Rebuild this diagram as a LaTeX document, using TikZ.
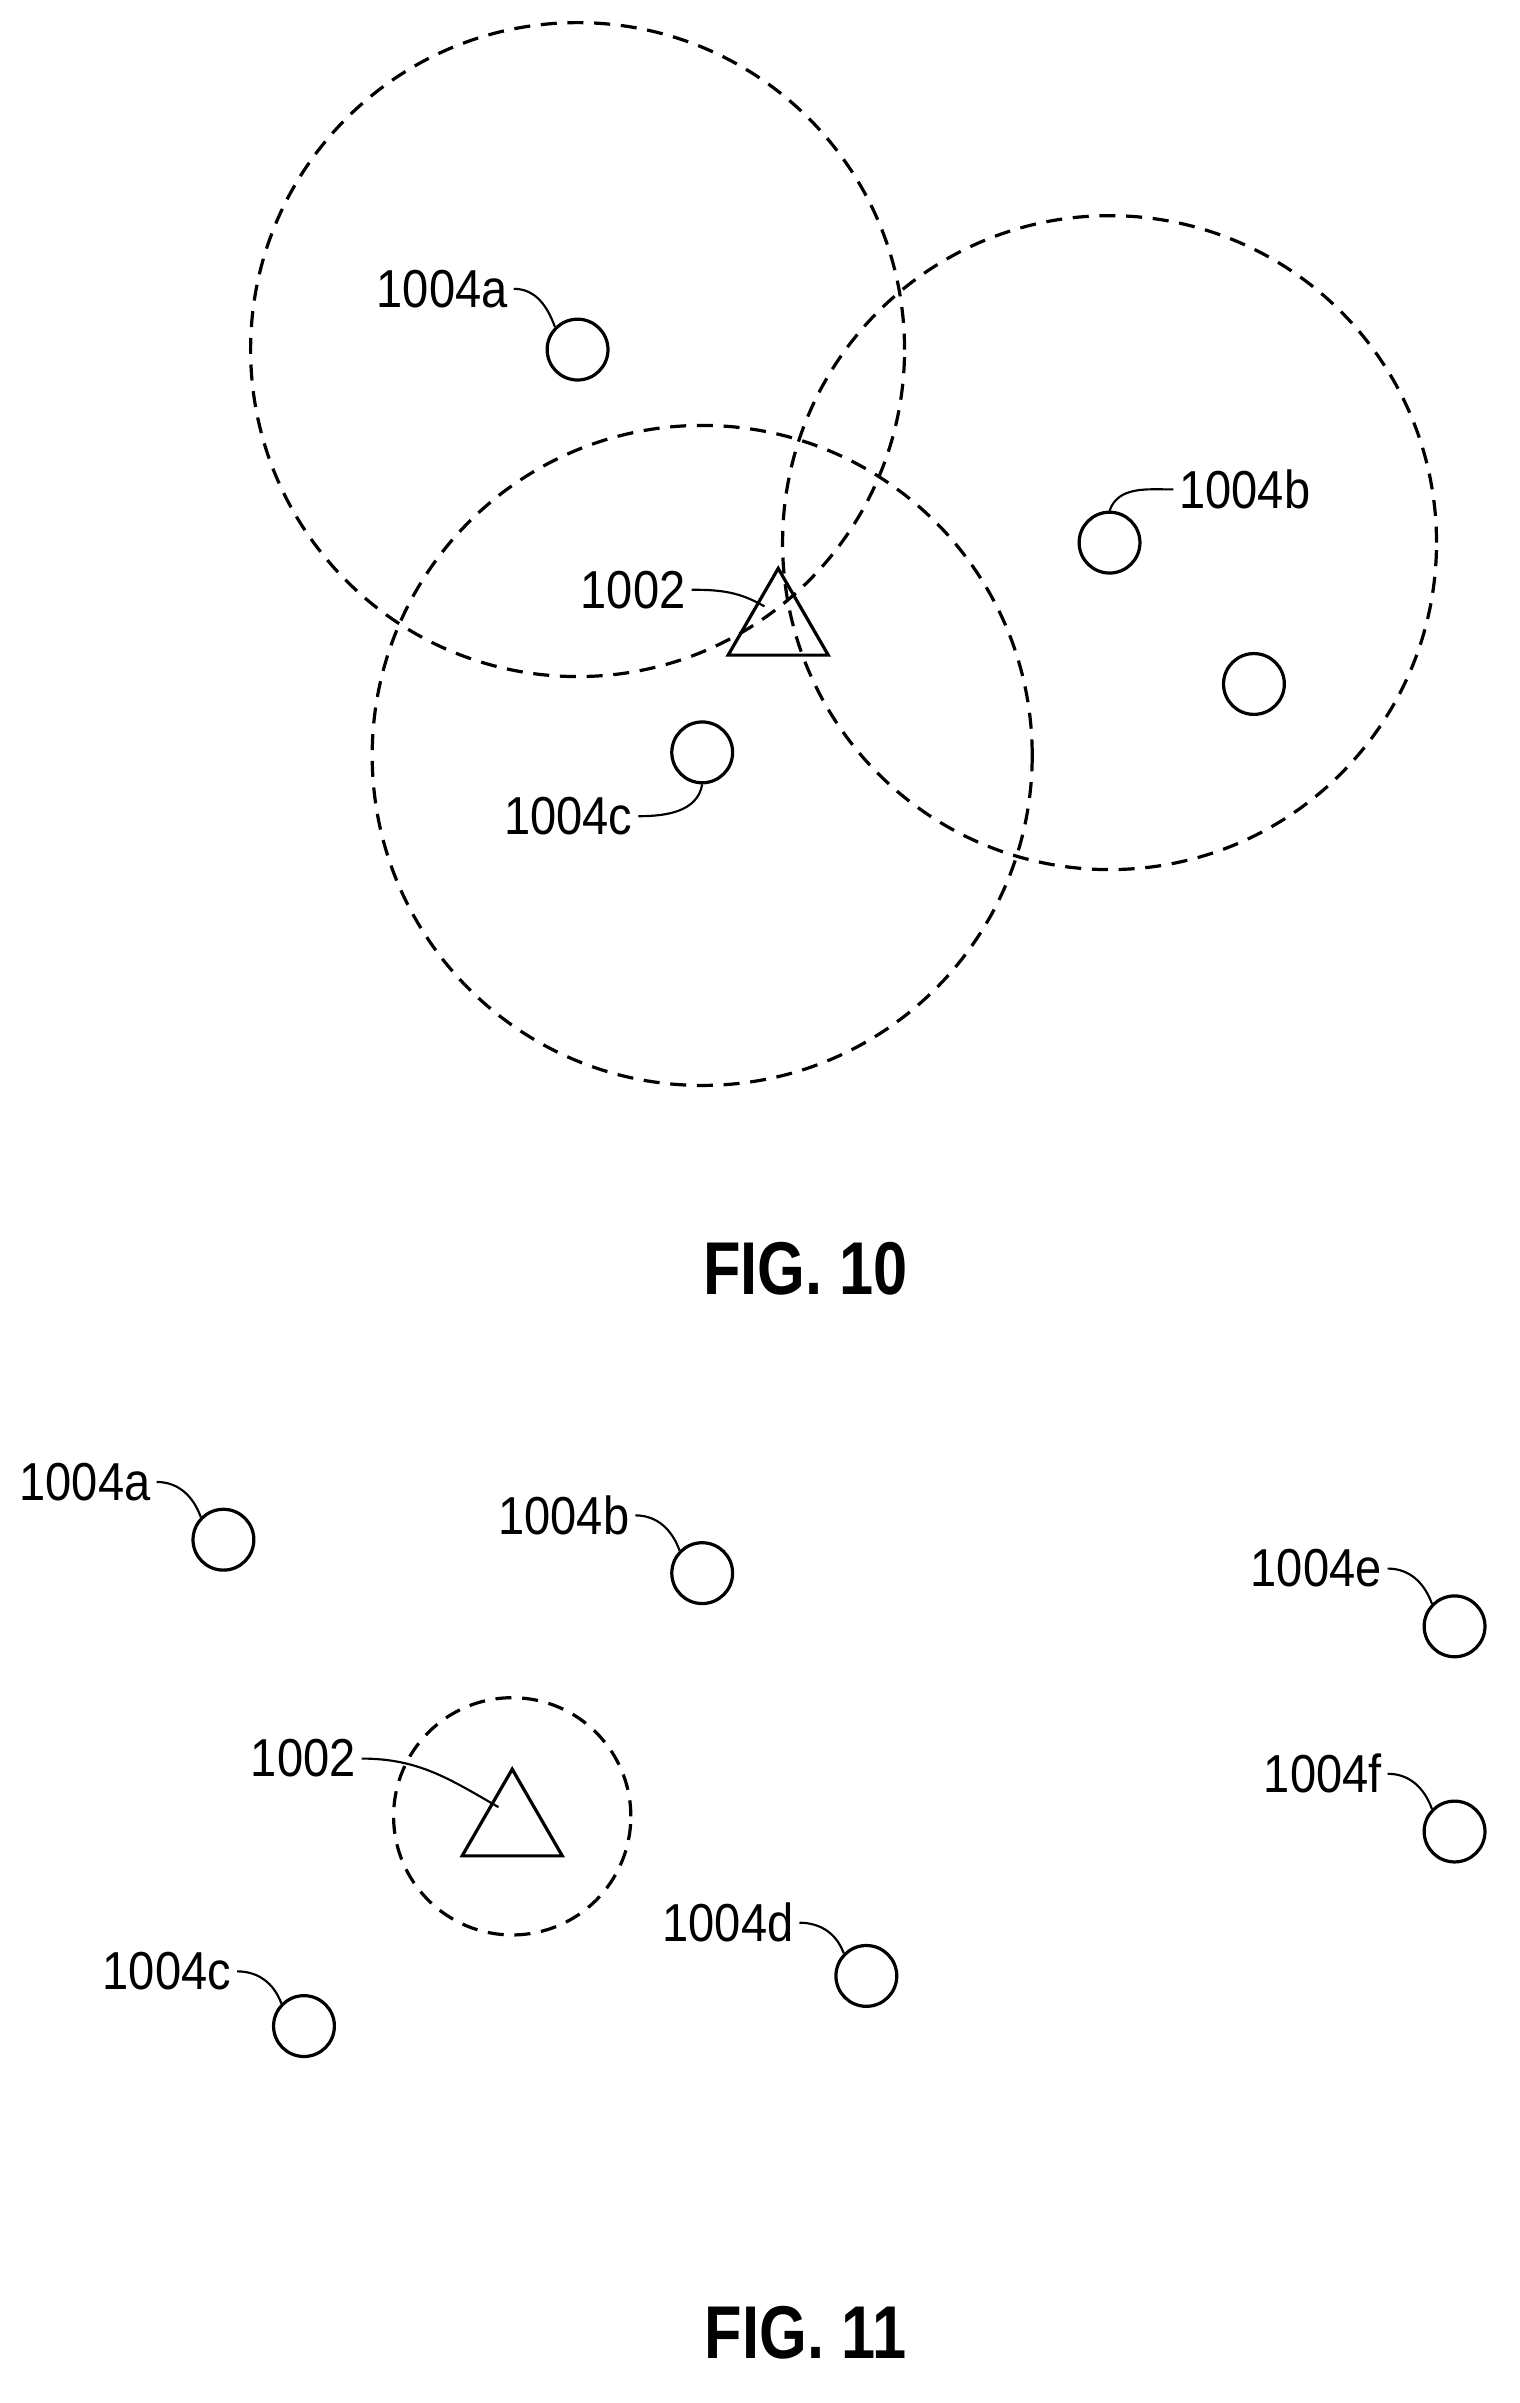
\documentclass[tikz,border=0pt]{standalone}
\usepackage{fontspec}
\setmainfont{Liberation Sans}
\usetikzlibrary{calc, positioning, shapes.geometric}

\tikzset{
  dev/.style={circle, draw, minimum size=0.4cm, inner sep=0pt},
  base/.style={regular polygon, regular polygon sides=3, draw, minimum size=0.76cm, inner sep=0pt},
  cover/.style={draw, dash pattern=on 3pt off 2pt},
  lbl/.style={font=\fontsize{10}{12}\selectfont, inner sep=1pt, xscale=0.88},
  lead/.style={draw, thin},
  figlbl/.style={font=\fontsize{14}{16}\selectfont\bfseries, xscale=0.82}
}

\begin{document}
\begin{tikzpicture}[x=0.01cm, y=-0.01cm, line width=0.6pt]
    \path[use as bounding box] (0,0) rectangle (1000,1581);

    % FIG. 10
    \draw[cover] (380,230) circle (2.15cm);
    \draw[cover] (730,357) circle (2.15cm);
    \draw[cover] (462,497) circle (2.17cm);

    \node[dev] (a) at (380,230) {};
    \node[dev] (b) at (730,357) {};
    \node[dev] (b2) at (825,450) {};
    \node[dev] (c) at (462,495) {};
    \node[base] (bs) at (512,412) {};

    \node[lbl, anchor=east] (a_label) at (338,190) {1004a};
    \node[lbl, anchor=west] (b_label) at (772,322) {1004b};
    \node[lbl, anchor=east] (bs_label) at (455,388) {1002};
    \node[lbl, anchor=east] (c_label) at (420,537) {1004c};

    \draw[lead] (a_label.east) to[out=0, in=110] (a.north west);
    \draw[lead] (b_label.west) to[out=180, in=70] (b.north);
    \draw[lead] (bs_label.east) to[out=0, in=150] ($(bs.north)!0.45!(bs.south west)$);
    \draw[lead] (c_label.east) to[out=0, in=-100] (c.south);

    \node[figlbl] (fig10) at (530,835) {FIG. 10};

    % FIG. 11
    \node[dev] (a11) at (147,1013) {};
    \node[dev] (b11) at (462,1035) {};
    \node[dev] (e11) at (957,1070) {};
    \node[dev] (f11) at (957,1205) {};
    \node[dev] (d11) at (570,1300) {};
    \node[dev] (c11) at (200,1333) {};
    \draw[cover] (337,1195) circle (0.78cm);
    \node[base] (bs11) at (337,1202) {};

    \node[lbl, anchor=east] (a11_label) at (103,975) {1004a};
    \node[lbl, anchor=east] (b11_label) at (418,997) {1004b};
    \node[lbl, anchor=east] (e11_label) at (913,1032) {1004e};
    \node[lbl, anchor=east] (f11_label) at (913,1167) {1004f};
    \node[lbl, anchor=east] (bs11_label) at (238,1157) {1002};
    \node[lbl, anchor=east] (d11_label) at (526,1265) {1004d};
    \node[lbl, anchor=east] (c11_label) at (156,1297) {1004c};

    \draw[lead] (a11_label.east) to[out=0, in=110] (a11.north west);
    \draw[lead] (b11_label.east) to[out=0, in=110] (b11.north west);
    \draw[lead] (e11_label.east) to[out=0, in=110] (e11.north west);
    \draw[lead] (f11_label.east) to[out=0, in=110] (f11.north west);
    \draw[lead] (bs11_label.east) to[out=0, in=150] ($(bs11.north)!0.45!(bs11.south west)$);
    \draw[lead] (d11_label.east) to[out=0, in=110] (d11.north west);
    \draw[lead] (c11_label.east) to[out=0, in=110] (c11.north west);

    \node[figlbl] (fig11) at (530,1535) {FIG. 11};
\end{tikzpicture}
\end{document}
